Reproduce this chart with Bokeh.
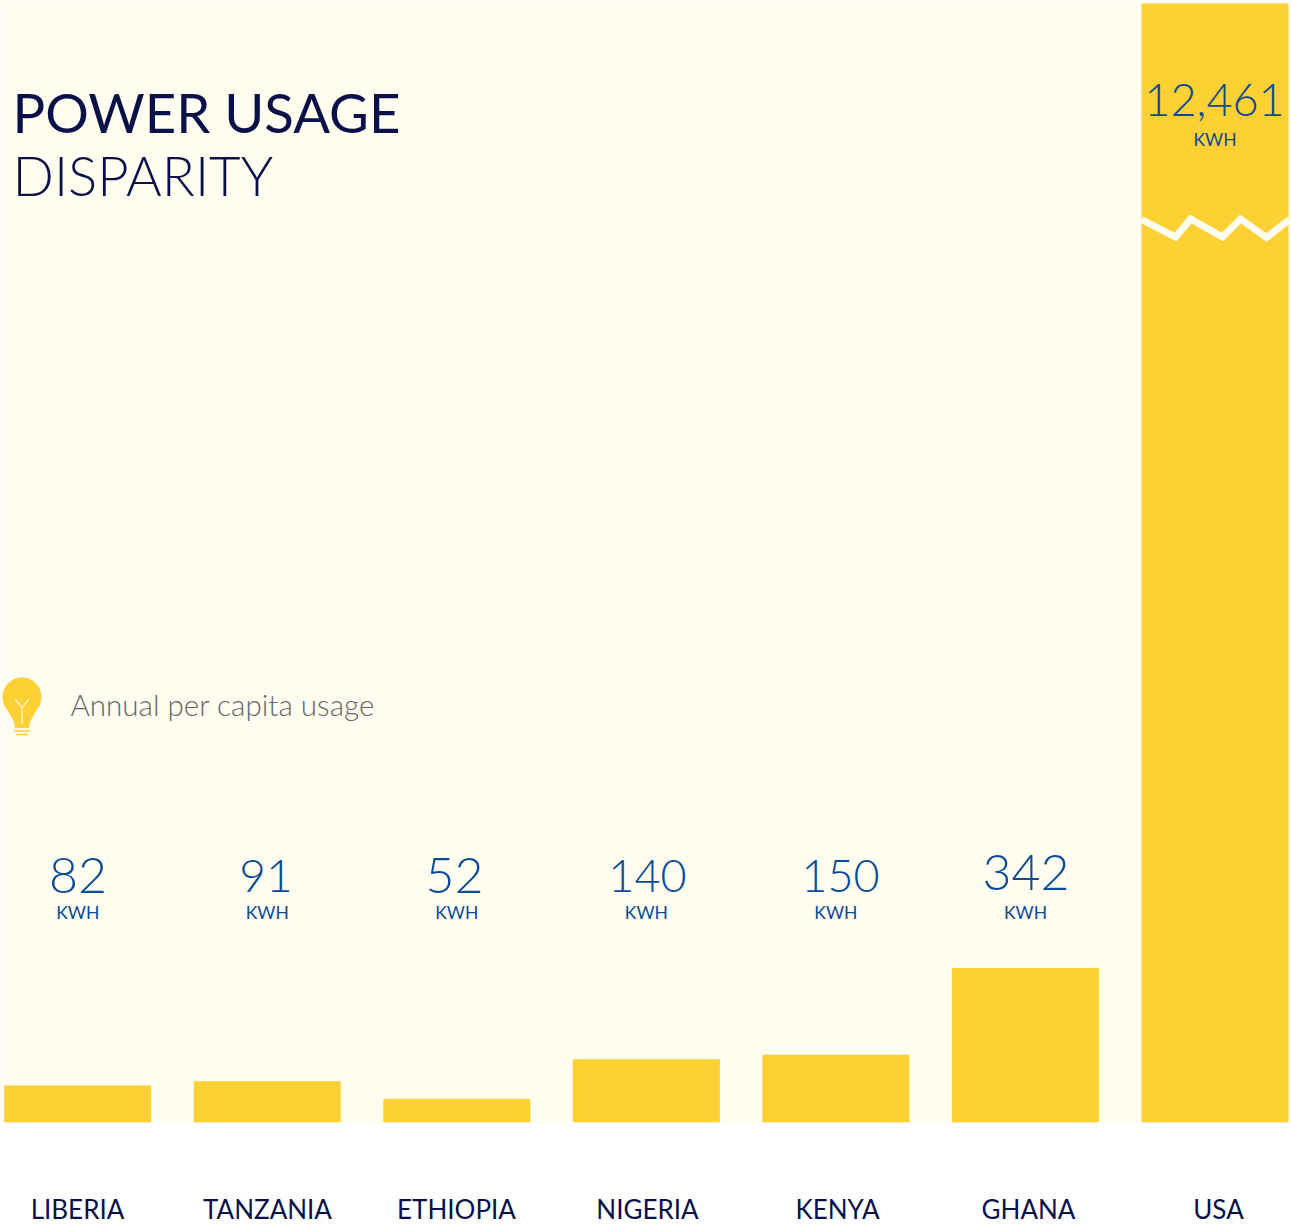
from bokeh.plotting import figure
from bokeh.models import Range1d, ColumnDataSource, FixedTicker
from bokeh.core.properties import value
from bokeh.embed import file_html
from bokeh.resources import INLINE

# ---- data ----
countries = ["LIBERIA", "TANZANIA", "ETHIOPIA", "NIGERIA", "KENYA", "GHANA", "USA"]
kwh = [82, 91, 52, 140, 150, 342, 12461]
kwh_labels = ["82", "91", "52", "140", "150", "342", "12,461"]
unit_label = "KWH"
title_bold = "POWER USAGE"
title_light = "DISPARITY"
legend_text = "Annual per capita usage"

# ---- styles ----
BAR = "#FDD033"
CREAM = "#FFFCF0"
BLUE = "#0B4A94"
NAVY = "#0A1148"
GREY = "#666666"
FONT = "Lato"
LIGHT = "Lato Light"

W, H, FRAME_H = 1291, 1224, 1122
PX_PER_KWH = 0.452
CAP = (FRAME_H - 3) / PX_PER_KWH   # the USA bar is broken: it stops at the top of the chart

p = figure(width=W, height=H, frame_width=W, frame_height=FRAME_H,
           output_backend="svg", toolbar_location=None,
           x_range=Range1d(0, W),
           y_range=Range1d(0, FRAME_H / PX_PER_KWH),
           min_border=0, min_border_left=0, min_border_right=0, min_border_top=0,
           min_border_bottom=102)
p.styles = {"position": "absolute", "left": "0px", "top": "0px"}
p.extra_y_ranges["px"] = Range1d(FRAME_H, 0)
p.background_fill_color = CREAM
p.border_fill_color = "#FFFFFF"
p.outline_line_color = None
p.grid.visible = False
p.yaxis.visible = False

bar_x = [77.2 + i * 189.55 for i in range(len(countries))]
tick_x = [77, 267, 456, 647, 837, 1028, 1218]
val_x = [77.5, 265.5, 454, 647, 840, 1025.5, 1214]

ax = p.xaxis[0]
ax.ticker = FixedTicker(ticks=tick_x)
ax.major_label_overrides = dict(zip(tick_x, countries))
ax.axis_line_color = None
ax.major_tick_line_color = None
ax.minor_tick_line_color = None
ax.major_label_standoff = 64
ax.major_label_text_font = FONT
ax.major_label_text_font_size = "26px"
ax.major_label_text_color = NAVY

# bars
src = ColumnDataSource(dict(x=bar_x, top=[min(v, CAP) for v in kwh]))
p.vbar(x="x", top="top", bottom=0, width=147, source=src,
       fill_color=BAR, line_color=None)

# axis break on the USA bar
p.line([1141, 1175, 1190, 1222, 1240, 1266, 1289],
       [219, 236.5, 218.5, 236.5, 218.5, 237, 219],
       y_range_name="px", line_color=CREAM, line_width=7, line_join="miter")

# value labels
val_y = [875, 875, 875, 875, 875, 872, 99]
val_size = ["50px", "46px", "50px", "45px", "45px", "50px", "45px"]
unit_y = [912, 912, 912, 912, 912, 912, 139]
p.text(x=val_x, y=val_y, text=kwh_labels, y_range_name="px",
       text_font=value(LIGHT), text_font_size=val_size, text_color=BLUE,
       text_align="center", text_baseline="middle")
p.text(x=bar_x, y=unit_y, text=[unit_label] * 7, y_range_name="px",
       text_font=value(FONT), text_font_size="17.5px", text_color=BLUE,
       text_align="center", text_baseline="middle")

# title
p.text(x=[12], y=[111], text=[title_bold], y_range_name="px",
       text_font=value(FONT), text_font_size="54.5px", text_color=NAVY,
       text_baseline="middle")
p.text(x=[12], y=[174], text=[title_light], y_range_name="px",
       text_font=value(LIGHT), text_font_size="54.5px", text_color=NAVY,
       text_baseline="middle")

# bulb legend
p.circle(x=[21.5], y=[696.5], radius=19.5, y_range_name="px",
         fill_color=BAR, line_color=None)
p.patch([4.5, 38.5, 29.5, 28.5, 14.5, 13.5], [704.5, 704.5, 721.5, 727.5, 727.5, 721.5],
        y_range_name="px", fill_color=BAR, line_color=None)
p.multi_line([[14.5, 21.5, 28.5], [21.5, 21.5]], [[698.5, 707.5, 698.5], [707.5, 723.5]],
             y_range_name="px", line_color=CREAM, line_width=1.2)
p.multi_line([[13.5, 29.5], [15.5, 27.5]], [[730.5, 730.5], [734, 734]],
             y_range_name="px", line_color=BAR, line_width=1.5)
p.text(x=[70], y=[704], text=[legend_text], y_range_name="px",
       text_font=value(LIGHT), text_font_size="29.6px", text_color=GREY,
       text_baseline="middle")

open("out.html", "w").write(file_html(p, INLINE))
